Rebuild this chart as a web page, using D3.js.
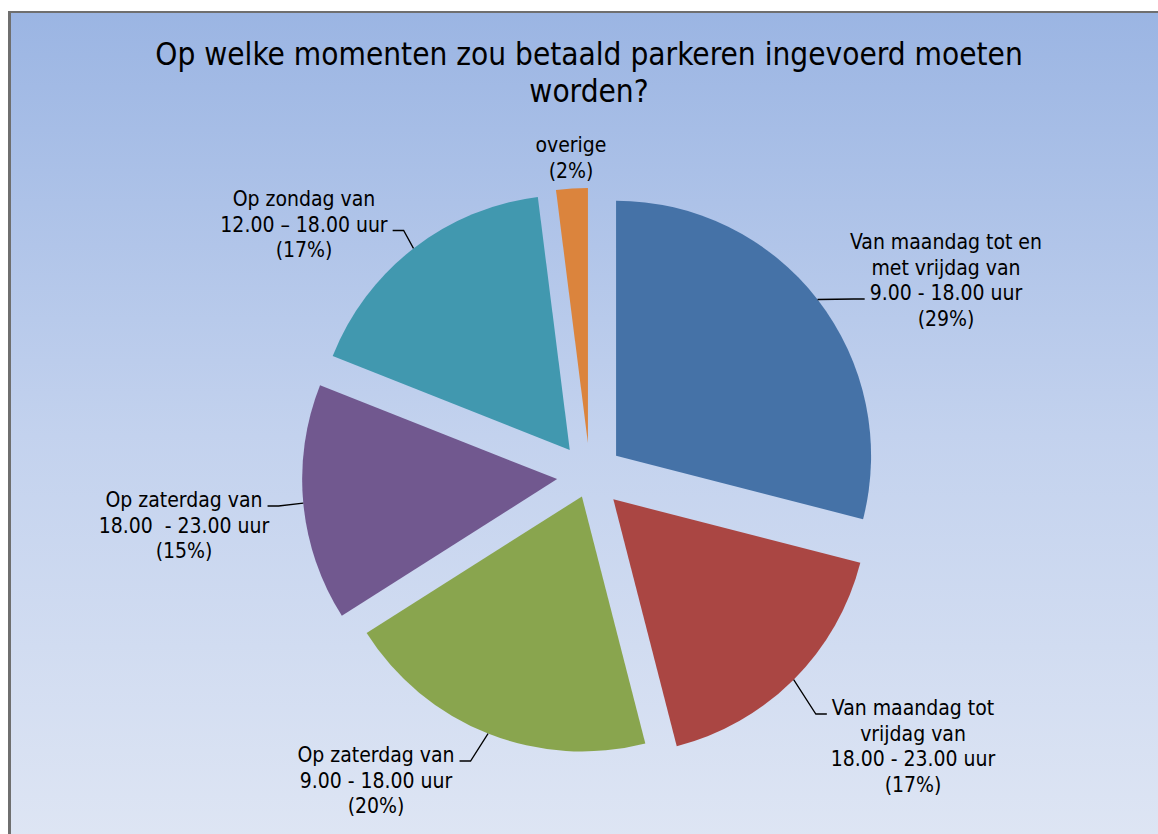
<!DOCTYPE html>
<html>
<head>
<meta charset="utf-8">
<title>Betaald parkeren</title>
<style>
  html, body { margin: 0; padding: 0; background: #fff; }
  svg text { font-family: "DejaVu Sans Condensed", "DejaVu Sans", sans-serif; font-stretch: condensed; fill: #000; white-space: pre; }
</style>
</head>
<body>
<div id="chart"></div>
<script src="https://cdn.jsdelivr.net/npm/d3@7"></script>
<script>
// data
var categories = [
  ["Van maandag tot en", "met vrijdag van", "9.00 - 18.00 uur"],
  ["Van maandag tot", "vrijdag van", "18.00 - 23.00 uur"],
  ["Op zaterdag van", "9.00 - 18.00 uur"],
  ["Op zaterdag van", "18.00  - 23.00 uur"],
  ["Op zondag van", "12.00 \u2013 18.00 uur"],
  ["overige"]
];
var values = [29, 17, 20, 15, 17, 2];
var percentLabels = ["(29%)", "(17%)", "(20%)", "(15%)", "(17%)", "(2%)"];
var colors = ["#4572a7", "#aa4643", "#89a54e", "#71588f", "#4198af", "#db843d"];
var titleLines = ["Op welke momenten zou betaald parkeren ingevoerd moeten", "worden?"];

// layout: label block centre / first baseline, explode distance, leader attach line
var labelLayout = [
  { x: 946, y: 249, explode: 33, leaderLine: 2, side: "left" },
  { x: 913, y: 715, explode: 33, leaderLine: 0, side: "left" },
  { x: 376, y: 762, explode: 22, leaderLine: 0, side: "right" },
  { x: 184, y: 507, explode: 33, leaderLine: 0, side: "right" },
  { x: 304, y: 206, explode: 33, leaderLine: 1, side: "right" },
  { x: 571, y: 152, explode: 33, leaderLine: -1, side: null }
];

var W = 1158, H = 834;
var cx = 590, cy = 476, radius = 255;
var lineGap = 25.5;

var svg = d3.select("#chart").append("svg").attr("width", W).attr("height", H);

var defs = svg.append("defs");
var grad = defs.append("linearGradient").attr("id", "bg").attr("x1", 0).attr("y1", 0).attr("x2", 0).attr("y2", 1);
grad.append("stop").attr("offset", "0%").attr("stop-color", "#9bb5e3");
grad.append("stop").attr("offset", "50%").attr("stop-color", "#c3d2ee");
grad.append("stop").attr("offset", "100%").attr("stop-color", "#dfe6f4");

// chart area (runs off the right and bottom of the picture)
svg.append("rect").attr("x", 8).attr("y", 11).attr("width", W + 10).attr("height", H + 10)
  .attr("fill", "#6f6f6f");
svg.append("rect").attr("x", 11).attr("y", 13).attr("width", W + 10).attr("height", H + 10)
  .attr("fill", "url(#bg)");

var title = svg.append("text").attr("text-anchor", "middle").style("font-size", "31.3px");
title.selectAll("tspan").data(titleLines).enter().append("tspan")
  .attr("x", 589).attr("y", function(d, i) { return 65 + i * 37; })
  .text(function(d) { return d; });

var pie = d3.pie().sort(null).value(function(d) { return d; });
var arcs = pie(values);
var arc = d3.arc().innerRadius(0).outerRadius(radius);

function offsetOf(i) {
  var a = (arcs[i].startAngle + arcs[i].endAngle) / 2;
  var e = labelLayout[i].explode;
  return [cx + e * Math.sin(a), cy - e * Math.cos(a)];
}

svg.append("g").selectAll("path").data(arcs).enter().append("path")
  .attr("transform", function(d, i) { var o = offsetOf(i); return "translate(" + o[0] + "," + o[1] + ")"; })
  .attr("d", arc)
  .attr("fill", function(d, i) { return colors[i]; });

// labels
var labels = svg.append("g");
arcs.forEach(function(d, i) {
  var L = labelLayout[i];
  var lines = categories[i].concat([percentLabels[i]]);
  var t = labels.append("text").attr("text-anchor", "middle").style("font-size", "21px");
  var spans = [];
  lines.forEach(function(s, k) {
    spans.push(t.append("tspan").attr("x", L.x).attr("y", L.y + k * lineGap).text(s));
  });
  if (L.leaderLine < 0) return;
  var a = (d.startAngle + d.endAngle) / 2;
  var o = offsetOf(i);
  var start = [o[0] + radius * Math.sin(a), o[1] - radius * Math.cos(a)];
  var w = spans[L.leaderLine].node().getComputedTextLength();
  var ly = L.y + L.leaderLine * lineGap - 1;
  var end, elbow;
  if (L.side === "left") { end = [L.x - w / 2 - 5, ly]; elbow = [end[0] - 11, ly]; }
  else { end = [L.x + w / 2 + 5, ly]; elbow = [end[0] + 11, ly]; }
  labels.append("path")
    .attr("d", d3.line()([start, elbow, end]))
    .attr("fill", "none").attr("stroke", "#000").attr("stroke-width", 1.3);
});
</script>
</body>
</html>
